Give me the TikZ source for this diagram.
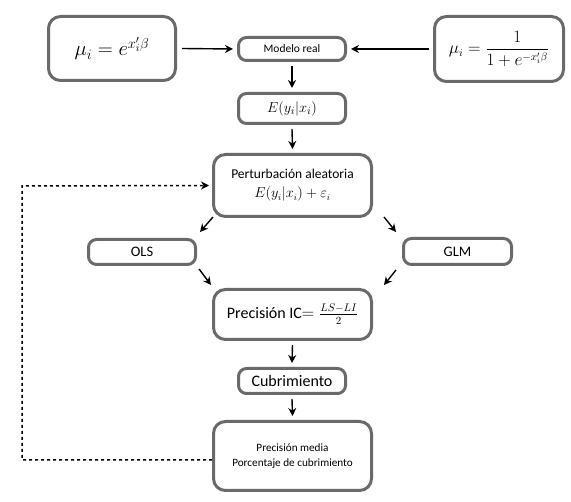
\documentclass[tikz,border=0pt]{standalone}
\usepackage{fontspec}
\setmainfont{Carlito}
\usetikzlibrary{arrows.meta,calc}
\definecolor{boxgray}{HTML}{6A6A6A}
\begin{document}
\begin{tikzpicture}[x=1pt,y=-1pt,
  box/.style={draw=boxgray, line width=3pt, rounded corners=8pt, fill=white, inner sep=0pt, align=center},
  bigbox/.style={box, rounded corners=12pt},
  arr/.style={-{Stealth[length=8pt,width=8pt]}, line width=1.4pt, black},
  dotarr/.style={-{Stealth[length=8pt,width=8pt]}, line width=1.5pt, black, dash pattern=on 3pt off 3pt}]
\useasboundingbox (0,0) rectangle (571,502);

\node[bigbox, minimum width=127pt, minimum height=64pt, font=\fontsize{21}{25}\selectfont] (f1) at (112,48.5) {$\mu_i = e^{x_i'\beta}$};
\node[box, minimum width=107pt, minimum height=23pt, font=\fontsize{11.5}{14}\selectfont] (mod) at (292,49) {Modelo real};
\node[bigbox, minimum width=129pt, minimum height=65pt, font=\fontsize{16}{19}\selectfont] (f2) at (499,49) {$\displaystyle\mu_i=\frac{1}{1+e^{-x_i'\beta}}$};
\node[box, minimum width=107pt, minimum height=30pt, font=\fontsize{15}{18}\selectfont] (e) at (292,108.5) {$E(y_i|x_i)$};
\node[bigbox, minimum width=158pt, minimum height=62pt, font=\fontsize{13.5}{16}\selectfont] (pert) at (292.5,185.5) {Perturbación aleatoria\\[3pt]$E(y_i|x_i)+\varepsilon_i$};
\node[box, minimum width=107pt, minimum height=25pt, font=\fontsize{14.5}{17}\selectfont] (ols) at (142,252) {OLS};
\node[box, minimum width=108pt, minimum height=26pt, font=\fontsize{14.5}{17}\selectfont] (glm) at (457.5,251.5) {GLM};
\node[bigbox, minimum width=158pt, minimum height=50pt, font=\fontsize{16}{19}\selectfont] (prec) at (292.5,314.5) {Precisión IC$=\frac{LS-LI}{2}$};
\node[box, minimum width=107pt, minimum height=25pt, font=\fontsize{16}{19}\selectfont] (cub) at (292,381) {Cubrimiento};
\node[bigbox, minimum width=158pt, minimum height=69pt, font=\fontsize{11.2}{15}\selectfont] (fin) at (292.5,456) {Precisión media\\Porcentaje de cubrimiento};

\draw[arr] ($(f1.east)+(5,0)$) -- ($(mod.west)+(-4,0)$);
\draw[arr] ($(f2.west)+(-4,0)$) -- ($(mod.east)+(4,0)$);
\draw[arr] ($(mod.south)+(0,4)$) -- ($(e.north)+(0,-4)$);
\draw[arr] ($(e.south)+(0,4)$) -- ($(pert.north)+(0,-4)$);
\draw[arr] ($(pert.south west)+(1,-1)$) -- ($(ols.north east)+(3,-6)$);
\draw[arr] ($(pert.south east)+(11,-1)$) -- ($(glm.north west)+(-6,-5)$);
\draw[arr] ($(ols.south east)+(2,3)$) -- ($(prec.north west)+(-1,-3)$);
\draw[arr] ($(glm.south west)+(-6,4)$) -- ($(prec.north east)+(11,-3)$);
\draw[arr] ($(prec.south)+(0,4)$) -- ($(cub.north)+(0,-4)$);
\draw[arr] ($(cub.south)+(0,4)$) -- ($(fin.north)+(0,-4)$);
\coordinate (dl) at (22,460);
\coordinate (ul) at (22,186);
\draw[dotarr] ($(fin.west)+(0,4)$) -- (dl) -- (ul) -- ($(pert.west)+(-3,0)$);
\end{tikzpicture}
\end{document}
